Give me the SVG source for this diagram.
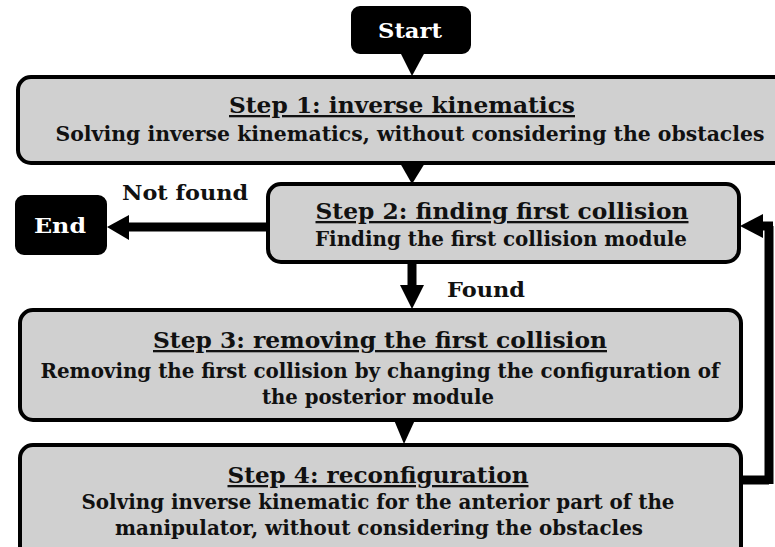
<svg xmlns="http://www.w3.org/2000/svg" width="775" height="547" viewBox="0 0 775 547">
<style>
.step{fill:#d0d0d0;stroke:#000;stroke-width:4}
.term{fill:#000;stroke:#000;stroke-width:2}
.t{font-family:"DejaVu Serif","Liberation Serif",serif;font-weight:bold;fill:#111;text-anchor:middle}
.h{font-size:23px;text-decoration:underline}
.s{font-size:20.5px}
.w{font-family:"DejaVu Serif","Liberation Serif",serif;font-weight:bold;fill:#fff;text-anchor:middle;font-size:21px}
.lbl{font-family:"DejaVu Serif","Liberation Serif",serif;font-weight:bold;fill:#111;font-size:20.5px}
.ln{stroke:#000;stroke-width:9;fill:none}
.hd{fill:#000}
</style>
<rect width="775" height="547" fill="#fff"/>
<g id="connectors">
  <polygon class="hd" points="400,52 425,52 412,76"/>
  <polygon class="hd" points="400,163 425,163 412,184"/>
  <line class="ln" x1="268" y1="227" x2="126" y2="227"/>
  <polygon class="hd" points="107,227 129,215 129,240"/>
  <line class="ln" x1="412" y1="262" x2="412" y2="287"/>
  <polygon class="hd" points="400,285 424,285 412,309"/>
  <polygon class="hd" points="394,420 415,420 404,444"/>
  <line class="ln" x1="740" y1="480" x2="769" y2="480"/>
  <line class="ln" x1="769" y1="484" x2="769" y2="226"/>
  <line class="ln" x1="773" y1="226" x2="760" y2="226"/>
  <polygon class="hd" points="740,226 763,214 763,238"/>
  <text class="lbl" x="122" y="200" textLength="126" lengthAdjust="spacingAndGlyphs">Not found</text>
  <text class="lbl" x="447" y="297" textLength="78" lengthAdjust="spacingAndGlyphs">Found</text>
</g>
<g id="start">
  <rect class="term" x="352" y="7" width="118" height="46" rx="8"/>
  <text class="w" x="410" y="38" textLength="64" lengthAdjust="spacingAndGlyphs">Start</text>
</g>
<g id="step1">
  <rect class="step" x="18" y="77" width="800" height="86" rx="13"/>
  <text class="t h" x="402" y="113" textLength="346" lengthAdjust="spacingAndGlyphs">Step 1: inverse kinematics</text>
  <text class="t s" x="410" y="141" textLength="709" lengthAdjust="spacingAndGlyphs">Solving inverse kinematics, without considering the obstacles</text>
</g>
<g id="end">
  <rect class="term" x="16" y="196" width="90" height="58" rx="8"/>
  <text class="w" x="60" y="233" textLength="52" lengthAdjust="spacingAndGlyphs">End</text>
</g>
<g id="step2">
  <rect class="step" x="268" y="184" width="471" height="78" rx="13"/>
  <text class="t h" x="502" y="219" textLength="373" lengthAdjust="spacingAndGlyphs">Step 2: finding first collision</text>
  <text class="t s" x="501" y="246" textLength="372" lengthAdjust="spacingAndGlyphs">Finding the first collision module</text>
</g>
<g id="step3">
  <rect class="step" x="20" y="310" width="721" height="110" rx="13"/>
  <text class="t h" x="380" y="348" textLength="454" lengthAdjust="spacingAndGlyphs">Step 3: removing the first collision</text>
  <text class="t s" x="380" y="378" textLength="679" lengthAdjust="spacingAndGlyphs">Removing the first collision by changing the configuration of</text>
  <text class="t s" x="378" y="404" textLength="232" lengthAdjust="spacingAndGlyphs">the posterior module</text>
</g>
<g id="step4">
  <rect class="step" x="20" y="445" width="721" height="120" rx="13"/>
  <text class="t h" x="378" y="483" textLength="301" lengthAdjust="spacingAndGlyphs">Step 4: reconfiguration</text>
  <text class="t s" x="378" y="509" textLength="593" lengthAdjust="spacingAndGlyphs">Solving inverse kinematic for the anterior part of the</text>
  <text class="t s" x="379" y="535" textLength="528" lengthAdjust="spacingAndGlyphs">manipulator, without considering the obstacles</text>
</g>
</svg>
